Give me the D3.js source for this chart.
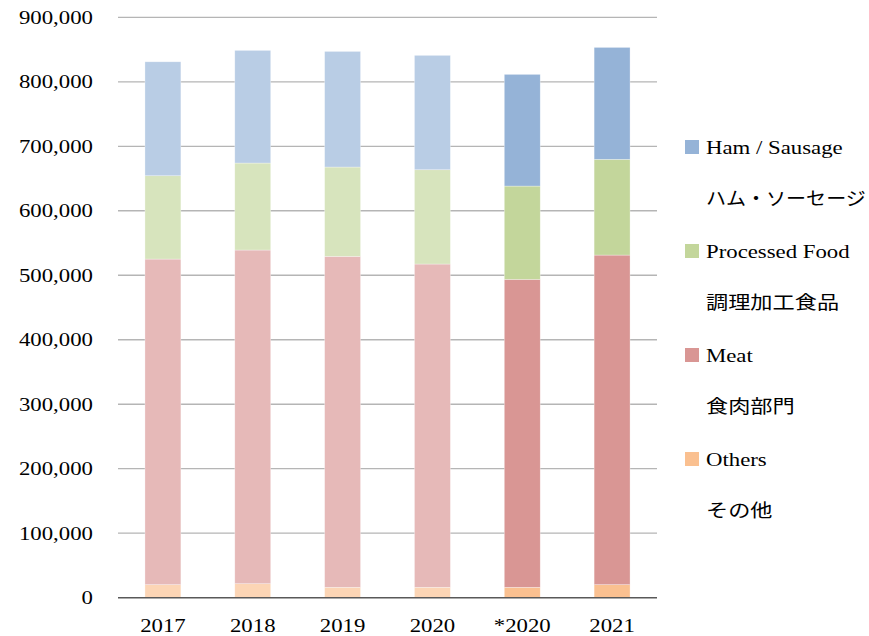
<!DOCTYPE html>
<html>
<head>
<meta charset="utf-8">
<script src="https://cdn.jsdelivr.net/npm/d3@7"></script>
<style>
  body { margin: 0; background: #fff; }
  text { font-family: "Liberation Serif", "Noto Sans CJK JP", serif; fill: #000; }
</style>
</head>
<body>
<div id="plot"></div>
<script>
// Sales by segment
const categories = ["2017", "2018", "2019", "2020", "*2020", "2021"];
const others    = [20200, 21700, 16100, 16100, 16100, 20200];
const meat      = [504900, 517400, 513200, 501300, 477500, 511100];
const processed = [129200, 134900, 138500, 146200, 144700, 148400];
const ham       = [176700, 174700, 179300, 177400, 173200, 173600];

const seriesKeys = ["others", "meat", "processed", "ham"];
const legendKeys = ["ham", "processed", "meat", "others"];
const legendEn = {ham: "Ham / Sausage", processed: "Processed Food", meat: "Meat", others: "Others"};
const legendJa = {ham: "ハム・ソーセージ", processed: "調理加工食品", meat: "食肉部門", others: "その他"};
const yTicks = [0, 100000, 200000, 300000, 400000, 500000, 600000, 700000, 800000, 900000];

// Colours: full for the new basis, lighter tint for the old years
const colorFull  = {ham: "#95B3D7", processed: "#C3D69B", meat: "#D99694", others: "#FAC090"};
const colorLight = {ham: "#B9CDE5", processed: "#D7E4BD", meat: "#E6B9B8", others: "#FCD5B5"};
const lightYears = new Set(["2017", "2018", "2019", "2020"]);

const table = categories.map((c, i) => ({
  cat: c, others: others[i], meat: meat[i], processed: processed[i], ham: ham[i]
}));

const width = 869, height = 636;
const margin = {top: 17.3, right: 212, bottom: 38.3, left: 118};
const stretch = 1.2; // text in the reference is widened horizontally

const svg = d3.select("#plot").append("svg")
  .attr("width", width)
  .attr("height", height);

const x = d3.scaleBand(categories, [margin.left, width - margin.right])
  .paddingInner(0.6)
  .paddingOuter(0.3);
const y = d3.scaleLinear([0, 900000], [height - margin.bottom, margin.top]);

// Gridlines
svg.append("g").selectAll("line")
  .data(yTicks.filter(d => d > 0))
  .join("line")
    .attr("x1", margin.left)
    .attr("x2", width - margin.right)
    .attr("y1", d => y(d))
    .attr("y2", d => y(d))
    .attr("stroke", "#b5b5b5")
    .attr("stroke-width", 1.3);

// Y labels
const fmt = d3.format(",");
svg.append("g").selectAll("text")
  .data(yTicks)
  .join("text")
    .attr("transform", d => `translate(93, ${y(d)}) scale(${stretch},1)`)
    .attr("dy", "0.35em")
    .attr("text-anchor", "end")
    .style("font-size", "19px")
    .text(d => fmt(d));

// Stacked bars
const stacked = d3.stack().keys(seriesKeys)(table);
svg.append("g").selectAll("g")
  .data(stacked)
  .join("g")
  .selectAll("rect")
  .data(s => s.map(d => ({key: s.key, d})))
  .join("rect")
    .attr("x", v => x(v.d.data.cat))
    .attr("width", x.bandwidth())
    .attr("y", v => y(v.d[1]))
    .attr("height", v => y(v.d[0]) - y(v.d[1]))
    .attr("fill", v => lightYears.has(v.d.data.cat) ? colorLight[v.key] : colorFull[v.key])
    .attr("stroke", "#fff")
    .attr("stroke-opacity", 0.5)
    .attr("stroke-width", 0.6);

// Zero axis line
svg.append("line")
  .attr("x1", margin.left)
  .attr("x2", width - margin.right)
  .attr("y1", y(0))
  .attr("y2", y(0))
  .attr("stroke", "#595959")
  .attr("stroke-width", 1.4);

// X labels
svg.append("g").selectAll("text")
  .data(categories)
  .join("text")
    .attr("transform", d => `translate(${x(d) + x.bandwidth() / 2}, 632) scale(${stretch},1)`)
    .attr("text-anchor", "middle")
    .style("font-size", "19px")
    .text(d => d);

// Legend
const legend = svg.append("g").selectAll("g")
  .data(legendKeys)
  .join("g")
    .attr("transform", (d, i) => `translate(685, ${147 + i * 104})`);
legend.append("rect")
  .attr("x", 0)
  .attr("y", -7)
  .attr("width", 14)
  .attr("height", 14)
  .attr("fill", d => colorFull[d]);
legend.append("text")
  .attr("transform", `translate(21, 0) scale(${stretch},1)`)
  .attr("dy", "0.35em")
  .style("font-size", "19px")
  .text(d => legendEn[d]);
legend.append("text")
  .attr("dy", "0.35em")
  .style("font-size", "18.5px")
  .text(d => legendJa[d])
  .attr("transform", function() {
    // keep the widest Japanese line inside the window
    const avail = width - 685 - 21 - 3;
    const s = Math.min(stretch, avail / this.getComputedTextLength());
    return `translate(21, 52) scale(${s},1)`;
  });
</script>
</body>
</html>
